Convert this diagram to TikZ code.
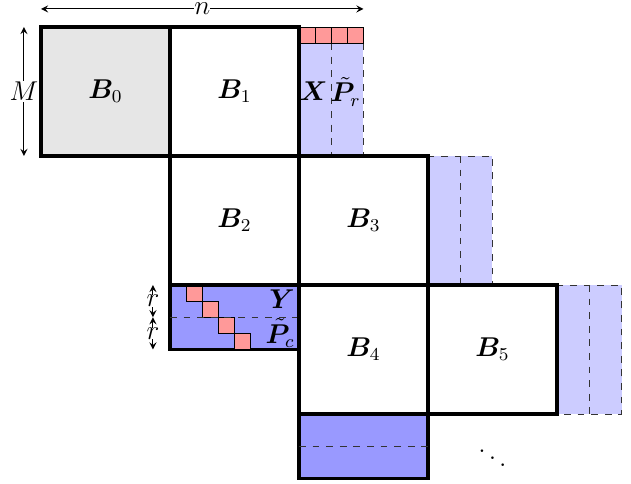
\documentclass[tikz,border=0pt]{standalone}
\usepackage{amsmath,bm}
\definecolor{lgray}{HTML}{E6E6E6}
\definecolor{lblue}{HTML}{CCCCFF}
\definecolor{dblue}{HTML}{9999FF}
\definecolor{lred}{HTML}{FF9999}
\begin{document}
\begin{tikzpicture}[x=0.5cm,y=0.5cm,>=stealth,font=\large,
  blk/.style={draw,line width=1.5pt},
  lpanel/.style={fill=lblue,draw=black!80,dashed,thin},
  dpanel/.style={fill=dblue,draw,line width=1.5pt},
  rsq/.style={fill=lred,draw,thin},
  dimarr/.style={<->,thin},
  lab/.style={inner sep=1pt}]
\useasboundingbox (-1.271,0.837) rectangle (18.295,-14.14);
% light panels
\fill[lblue] (8,0) rectangle (10,-4);
\draw[dashed,thin,black!80] (9,-0.5) -- (9,-4) (10,-0.5) -- (10,-4);
\foreach \i in {0,1,2,3} \draw[rsq] (8+0.5*\i,0) rectangle (8.5+0.5*\i,-0.5);
\draw[lpanel] (12,-4) rectangle (14,-8);
\draw[dashed,thin,black!80] (13,-4) -- (13,-8);
\draw[lpanel] (16,-8) rectangle (18,-12);
\draw[dashed,thin,black!80] (17,-8) -- (17,-12);
% dark panels
\draw[dpanel] (4,-8) rectangle (8,-10);
\foreach \i in {0,1,2,3} \draw[rsq] (4.5+0.5*\i,-8-0.5*\i) rectangle (5+0.5*\i,-8.5-0.5*\i);
\draw[dashed,thin,black!80] (4,-9) -- (8,-9);
\draw[dpanel] (8,-12) rectangle (12,-14);
\draw[dashed,thin,black!80] (8,-13) -- (12,-13);
% blocks
\fill[lgray] (0,0) rectangle (4,-4);
\draw[blk] (0,0) rectangle (4,-4);
\draw[blk] (4,0) rectangle (8,-4);
\draw[blk] (4,-4) rectangle (8,-8);
\draw[blk] (8,-4) rectangle (12,-8);
\draw[blk] (8,-8) rectangle (12,-12);
\draw[blk] (12,-8) rectangle (16,-12);
% labels
\node[lab] (b0) at (2,-2) {$\bm{B}_0$};
\node[lab] (b1) at (6,-2) {$\bm{B}_1$};
\node[lab] (b2) at (6,-6) {$\bm{B}_2$};
\node[lab] (b3) at (10,-6) {$\bm{B}_3$};
\node[lab] (b4) at (10,-10) {$\bm{B}_4$};
\node[lab] (b5) at (14,-10) {$\bm{B}_5$};
\node[lab] (x) at (8.45,-2) {$\bm{X}$};
\node[lab] (pr) at (9.45,-2) {$\tilde{\bm{P}}_r$};
\node[lab,anchor=east] (y) at (7.95,-8.45) {$\bm{Y}$};
\node[lab,anchor=east] (pc) at (7.95,-9.5) {$\tilde{\bm{P}}_c$};
\node[lab] (dd) at (14,-13.15) {$\ddots$};
% dimension arrows
\coordinate (n0) at (0,0.56);
\coordinate (n1) at (10,0.56);
\draw[dimarr] (n0) -- node[fill=white,inner sep=0pt] (nl) {$n$} (n1);
\coordinate (m0) at (-0.53,0);
\coordinate (m1) at (-0.53,-4);
\draw[dimarr] (m0) -- node[fill=white,inner sep=0.5pt] (ml) {$M$} (m1);
\coordinate (r0) at (3.47,-8);
\coordinate (r1) at (3.47,-9);
\coordinate (r2) at (3.47,-10);
\draw[dimarr] (r0) -- node[fill=white,inner sep=0pt] (rl1) {$r$} (r1);
\draw[dimarr] (r1) -- node[fill=white,inner sep=0pt] (rl2) {$r$} (r2);
\end{tikzpicture}
\end{document}
